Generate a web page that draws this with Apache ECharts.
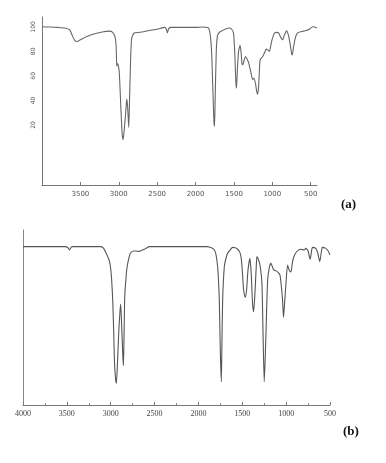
<!DOCTYPE html>
<html><head><meta charset="utf-8">
<script src="https://cdn.jsdelivr.net/npm/echarts@6/dist/echarts.min.js"></script>
<style>html,body{margin:0;padding:0;background:#fff}#c{width:386px;height:463px}</style>
</head><body><div id="c"></div>
<script>
// Panel (a) spectrum: wavenumber (cm-1) and transmittance (%)
const waveA = [4000,3900,3800,3700,3640,3600,3570,3540,3500,3400,3300,3200,3120,3080,3050,3035,3026,3018,3008,2995,2987,2970,2955,2944,2930,2910,2896,2885,2870,2860,2845,2831,2800,2727,2600,2500,2402,2380,2367,2350,2320,2200,2000,1900,1840,1815,1792,1775,1760,1753,1745,1730,1714,1680,1600,1558,1530,1506,1490,1475,1467,1455,1440,1420,1408,1395,1385,1370,1350,1330,1307,1280,1255,1240,1220,1205,1194,1180,1170,1159,1125,1100,1081,1055,1038,1010,985,970,940,918,895,866,845,814,790,765,748,740,725,700,670,627,560,519,476,450,418];
const transA = [100,99.8,99.5,99,97.5,92,88.5,88,89.5,92.5,94.5,96,96.5,95.5,92,85,68,70,69,64,55,30,12,8,15,30,41,35,18,40,75,91,95,95.5,97,98,99.5,98,95,98.5,99.5,99.5,99.5,99.8,99.5,96,81,50,22,19,40,80,93,96,98.5,99,98,95,80,55,50,65,80,85,80,70,69,72,75.8,74,70.4,63,57,58,54,48,45,50,62,73,75.8,79,81.8,81,80,88,93,95,95.5,95,92,89.4,93,96.7,93,85,78,77,83,91,95,96,97,98,100,99.8,99];
// Panel (b) spectrum
const waveB = [4000,3700,3520,3490,3470,3450,3430,3200,3109,3080,3052,3020,3003,2990,2977,2965,2958,2945,2935,2922,2909,2895,2886,2875,2862,2855,2848,2840,2825,2813,2790,2776,2740,2711,2680,2654,2620,2597,2559,2400,2000,1900,1876,1850,1819,1800,1781,1770,1762,1750,1739,1732,1724,1705,1685,1667,1640,1610,1580,1553,1530,1515,1500,1485,1466,1451,1435,1413,1398,1383,1371,1360,1352,1340,1333,1315,1295,1276,1265,1250,1240,1230,1211,1190,1173,1150,1135,1110,1097,1071,1055,1041,1030,1018,1002,984,965,946,927,910,889,860,832,794,775,750,726,713,700,663,640,617,600,587,549,520,501];
const transB = [90.5,90.5,90.5,90,88.6,90.2,90.5,90.5,90.5,89.5,86.7,83,79,72,60,40,25.7,15,12.4,25,41,53,57.5,45,28,22.5,40,62,73,79,84.5,86.7,88,88,87.8,88.2,89,89.5,90.5,90.5,90.5,90.5,90.2,89.8,88.6,86,79,70,60,30,13.3,35,60,79,84,86.7,88.5,90.1,89.8,89,87.5,84.8,77,65.7,61.5,65.7,77,83.8,75,58,53.3,60,67.6,80,84.8,83,79,69.5,45,13.3,25,41,71.4,79,81,78,77,76.5,76,74.3,68,60,50,58,69.5,80,77,76,81.9,85,87,88.5,89,88.6,89.5,88,83.2,87,90.1,89.5,87,81.9,87,90.1,89.5,88,85.7];
// Tick labels
const xTicksA = [3500,3000,2500,2000,1500,1000,500];
const yTicksA = [20,40,60,80,100];
const panelLabels = ['(a)','(b)'];

const pairs = (w, t) => w.map((v, i) => [v, t[i]]);
const plain = v => String(v);
const chart = echarts.init(document.getElementById('c'));
chart.setOption({
  animation: false,
  backgroundColor: '#fff',
  graphic: [
    {type:'text', left:341, top:198, style:{text:panelLabels[0], font:'bold 13px "Liberation Serif"', fill:'#111'}},
    {type:'text', left:343, top:425, style:{text:panelLabels[1], font:'bold 13px "Liberation Serif"', fill:'#111'}}
  ],
  grid: [
    {left:42, width:275, top:17, height:168},
    {left:23, width:307, top:230, height:175}
  ],
  xAxis: [
    {gridIndex:0, type:'value', inverse:true, min:418, max:4000,
     splitLine:{show:false},
     axisLine:{onZero:false, lineStyle:{color:'#777', width:1}},
     axisTick:{inside:true, length:3, lineStyle:{color:'#777'}, customValues:xTicksA},
     axisLabel:{customValues:xTicksA, formatter:plain, fontSize:7, color:'#555', fontFamily:'DejaVu Sans', margin:6}},
    {gridIndex:1, type:'value', inverse:true, min:500, max:4000, interval:500,
     splitLine:{show:false},
     axisLine:{onZero:false, lineStyle:{color:'#777', width:1}},
     axisTick:{inside:true, length:3, lineStyle:{color:'#777'}},
     minorTick:{show:true, splitNumber:2, length:2, lineStyle:{color:'#888'}},
     axisLabel:{formatter:plain, fontSize:8, color:'#444', fontFamily:'Liberation Serif', margin:5}}
  ],
  yAxis: [
    {gridIndex:0, type:'value', min:-29, max:108,
     splitLine:{show:false},
     axisLine:{show:true, onZero:false, lineStyle:{color:'#777', width:1}},
     axisTick:{show:false, customValues:yTicksA},
     axisLabel:{customValues:yTicksA, formatter:plain, rotate:90, fontSize:6, color:'#555', fontFamily:'DejaVu Sans', margin:6}},
    {gridIndex:1, type:'value', min:0, max:100,
     splitLine:{show:false},
     axisLine:{show:true, onZero:false, lineStyle:{color:'#888', width:1}},
     axisTick:{show:false}, axisLabel:{show:false}}
  ],
  series: [
    {type:'line', xAxisIndex:0, yAxisIndex:0, data:pairs(waveA, transA), showSymbol:false,
     smooth:0.2, lineStyle:{color:'#666', width:1.1}},
    {type:'line', xAxisIndex:1, yAxisIndex:1, data:pairs(waveB, transB), showSymbol:false,
     smooth:0.2, lineStyle:{color:'#555', width:1.1}}
  ]
});
</script></body></html>
